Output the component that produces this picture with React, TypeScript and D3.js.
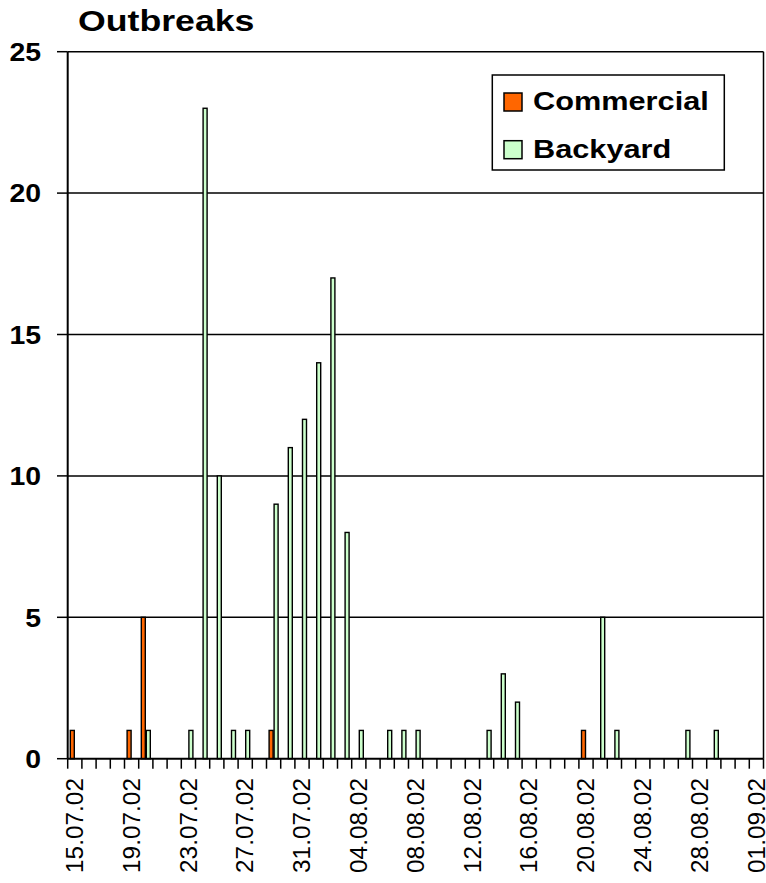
import React from "react";
import * as d3 from "d3";

const dates = [
  "15.07.02","16.07.02","17.07.02","18.07.02","19.07.02","20.07.02","21.07.02","22.07.02","23.07.02","24.07.02",
  "25.07.02","26.07.02","27.07.02","28.07.02","29.07.02","30.07.02","31.07.02","01.08.02","02.08.02","03.08.02",
  "04.08.02","05.08.02","06.08.02","07.08.02","08.08.02","09.08.02","10.08.02","11.08.02","12.08.02","13.08.02",
  "14.08.02","15.08.02","16.08.02","17.08.02","18.08.02","19.08.02","20.08.02","21.08.02","22.08.02","23.08.02",
  "24.08.02","25.08.02","26.08.02","27.08.02","28.08.02","29.08.02","30.08.02","31.08.02","01.09.02",
];
const commercial = [
  1,0,0,0,1,5,0,0,0,0,
  0,0,0,0,1,0,0,0,0,0,
  0,0,0,0,0,0,0,0,0,0,
  0,0,0,0,0,0,1,0,0,0,
  0,0,0,0,0,0,0,0,0,
];
const backyard = [
  0,0,0,0,0,1,0,0,1,23,
  10,1,1,0,9,11,12,14,17,8,
  1,0,1,1,1,0,0,0,0,1,
  3,2,0,0,0,0,0,5,1,0,
  0,0,0,1,0,1,0,0,0,
];
const seriesNames = ["Commercial", "Backyard"];
const seriesColors = ["#FF6600", "#CCFFCC"];
const yTicks = [0, 5, 10, 15, 20, 25];
const labelEvery = 4;

const FONT = "'Liberation Sans', Arial, Helvetica, sans-serif";

export default function App() {
  const W = 766, H = 883;
  const x0 = 67.7, x1 = 763.5, yTop = 51.7, yBot = 758.7;
  const x = d3.scaleBand<string>().domain(dates).range([x0, x1]).paddingInner(0.296).paddingOuter(0.148);
  const sub = d3.scaleBand<string>().domain(seriesNames).range([0, x.bandwidth()]);
  const y = d3.scaleLinear().domain([0, 25]).range([yBot, yTop]);
  const step = x.step();
  const series = [commercial, backyard];

  return (
    <svg width={W} height={H} style={{ position: "absolute", left: 0, top: 0, background: "#fff" }}>
      {/* title */}
      <text transform="translate(78,31) scale(1.23,1)" fontFamily={FONT} fontWeight="bold" fontSize={29} fill="#000">
        Outbreaks
      </text>
      {/* gridlines */}
      {yTicks.filter((t) => t > 0).map((t) => (
        <line key={"g" + t} x1={x0} x2={x1} y1={y(t)} y2={y(t)} stroke="#000" strokeWidth={1.5} />
      ))}
      {/* right border */}
      <line x1={x1} x2={x1} y1={yTop} y2={yBot} stroke="#000" strokeWidth={1.5} />
      {/* bars */}
      {series.map((vals, si) =>
        vals.map((v, i) =>
          v > 0 ? (
            <rect
              key={si + "-" + i}
              x={(x(dates[i]) as number) + (sub(seriesNames[si]) as number) + 0.5}
              y={y(v)}
              width={sub.bandwidth() - 1}
              height={yBot - y(v)}
              fill={seriesColors[si]}
              stroke="#000"
              strokeWidth={1.4}
            />
          ) : null
        )
      )}
      {/* y axis */}
      <line x1={x0} x2={x0} y1={yTop} y2={yBot} stroke="#000" strokeWidth={2} />
      {yTicks.map((t) => (
        <g key={"yt" + t}>
          <line x1={57} x2={x0} y1={y(t)} y2={y(t)} stroke="#000" strokeWidth={1.5} />
          <text
            transform={`translate(41,${y(t) + 9.2}) scale(1.11,1)`}
            textAnchor="end"
            fontFamily={FONT}
            fontWeight="bold"
            fontSize={25.6}
            fill="#000"
          >
            {t}
          </text>
        </g>
      ))}
      {/* x axis */}
      <line x1={x0} x2={x1} y1={yBot} y2={yBot} stroke="#000" strokeWidth={2} />
      {d3.range(dates.length + 1).map((i) => (
        <line key={"xt" + i} x1={x0 + i * step} x2={x0 + i * step} y1={yBot} y2={yBot + 10} stroke="#000" strokeWidth={1.5} />
      ))}
      {dates.map((d, i) =>
        i % labelEvery === 0 ? (
          <text
            key={"xl" + d}
            transform={`translate(${(x(d) as number) + x.bandwidth() / 2 + 8.1},778) rotate(-90)`}
            textAnchor="end"
            fontFamily={FONT}
            fontSize={24.4}
            fill="#000"
          >
            {d}
          </text>
        ) : null
      )}
      {/* legend */}
      <rect x={492.3} y={75} width={232} height={95} fill="#fff" stroke="#000" strokeWidth={1.5} />
      {seriesNames.map((n, i) => (
        <g key={"lg" + n}>
          <rect x={504} y={93 + i * 47.7} width={18} height={18} fill={seriesColors[i]} stroke="#000" strokeWidth={1.5} />
          <text
            transform={`translate(533,${110 + i * 48.3}) scale(1.2,1)`}
            fontFamily={FONT}
            fontWeight="bold"
            fontSize={25.6}
            fill="#000"
          >
            {n}
          </text>
        </g>
      ))}
    </svg>
  );
}
